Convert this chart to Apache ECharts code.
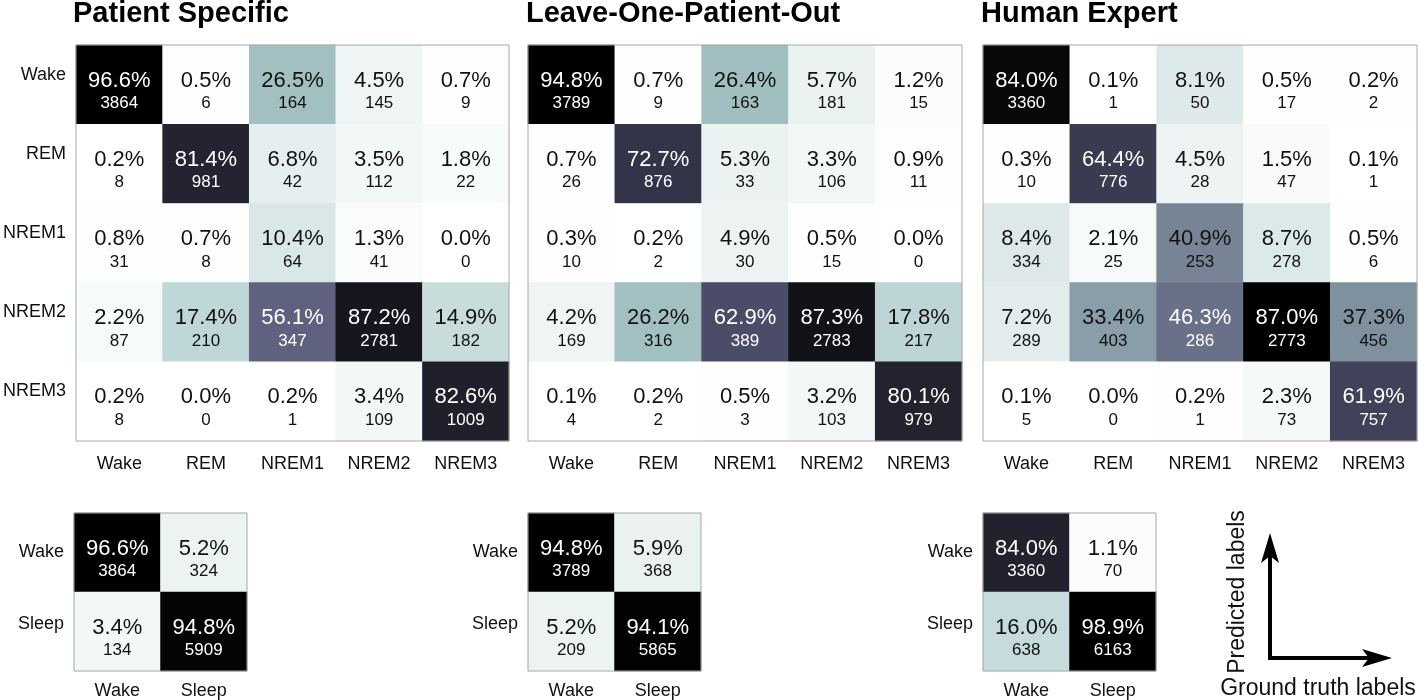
<!DOCTYPE html>
<html>
<head>
<meta charset="utf-8">
<script src="https://cdn.jsdelivr.net/npm/echarts@6/dist/echarts.min.js"></script>
<style>
html,body{margin:0;padding:0;background:#fff;}
#chart{width:1418px;height:700px;}
</style>
</head>
<body>
<div id="chart"></div>
<script>
// ---- data ----
const stageLabels = ['Wake', 'REM', 'NREM1', 'NREM2', 'NREM3'];
const binaryLabels = ['Wake', 'Sleep'];
const panelTitles = ['Patient Specific', 'Leave-One-Patient-Out', 'Human Expert'];

// rows = predicted label, columns = ground truth label
const psPct = [
  [96.6, 0.5, 26.5, 4.5, 0.7],
  [0.2, 81.4, 6.8, 3.5, 1.8],
  [0.8, 0.7, 10.4, 1.3, 0.0],
  [2.2, 17.4, 56.1, 87.2, 14.9],
  [0.2, 0.0, 0.2, 3.4, 82.6]
];
const psCnt = [
  [3864, 6, 164, 145, 9],
  [8, 981, 42, 112, 22],
  [31, 8, 64, 41, 0],
  [87, 210, 347, 2781, 182],
  [8, 0, 1, 109, 1009]
];
const lopoPct = [
  [94.8, 0.7, 26.4, 5.7, 1.2],
  [0.7, 72.7, 5.3, 3.3, 0.9],
  [0.3, 0.2, 4.9, 0.5, 0.0],
  [4.2, 26.2, 62.9, 87.3, 17.8],
  [0.1, 0.2, 0.5, 3.2, 80.1]
];
const lopoCnt = [
  [3789, 9, 163, 181, 15],
  [26, 876, 33, 106, 11],
  [10, 2, 30, 15, 0],
  [169, 316, 389, 2783, 217],
  [4, 2, 3, 103, 979]
];
const hePct = [
  [84.0, 0.1, 8.1, 0.5, 0.2],
  [0.3, 64.4, 4.5, 1.5, 0.1],
  [8.4, 2.1, 40.9, 8.7, 0.5],
  [7.2, 33.4, 46.3, 87.0, 37.3],
  [0.1, 0.0, 0.2, 2.3, 61.9]
];
const heCnt = [
  [3360, 1, 50, 17, 2],
  [10, 776, 28, 47, 1],
  [334, 25, 253, 278, 6],
  [289, 403, 286, 2773, 456],
  [5, 0, 1, 73, 757]
];
const psBinPct = [[96.6, 5.2], [3.4, 94.8]];
const psBinCnt = [[3864, 324], [134, 5909]];
const lopoBinPct = [[94.8, 5.9], [5.2, 94.1]];
const lopoBinCnt = [[3789, 368], [209, 5865]];
const heBinPct = [[84.0, 1.1], [16.0, 98.9]];
const heBinCnt = [[3360, 70], [638, 6163]];

const arrowYLabel = 'Predicted labels';
const arrowXLabel = 'Ground truth labels';

// ---- layout / style ----
const FONT = '"Liberation Sans", Arial, Helvetica, sans-serif';
// bone_r colormap
const boneR = ['#ffffff', '#d3e3e3', '#a8c7c7', '#8ba1ab', '#707b8f', '#545574', '#38384e', '#1c1c27', '#000000'];

const panels = [
  {pct: psPct, cnt: psCnt, cats: stageLabels, left: 75, top: 45, width: 434, height: 396, big: true, yLabels: true},
  {pct: lopoPct, cnt: lopoCnt, cats: stageLabels, left: 528, top: 45, width: 434, height: 396, big: true, yLabels: false},
  {pct: hePct, cnt: heCnt, cats: stageLabels, left: 983, top: 45, width: 434, height: 396, big: true, yLabels: false},
  {pct: psBinPct, cnt: psBinCnt, cats: binaryLabels, left: 74, top: 513, width: 173, height: 158, big: false, yLabels: true},
  {pct: lopoBinPct, cnt: lopoBinCnt, cats: binaryLabels, left: 528, top: 513, width: 173, height: 158, big: false, yLabels: true},
  {pct: heBinPct, cnt: heBinCnt, cats: binaryLabels, left: 983, top: 513, width: 173, height: 158, big: false, yLabels: true}
];

const grids = [], xAxes = [], yAxes = [], series = [], visualMaps = [];
panels.forEach((p, i) => {
  let maxV = 0;
  const data = [];
  p.pct.forEach((row, r) => row.forEach((v, c) => {
    maxV = Math.max(maxV, v);
    data.push([c, r, v, p.cnt[r][c]]);
  }));
  grids.push({
    left: p.left, top: p.top, width: p.width, height: p.height,
    show: true, borderColor: '#a8a8a8', borderWidth: 1, backgroundColor: 'transparent', z: 10
  });
  xAxes.push({
    type: 'category', gridIndex: i, data: p.cats, position: 'bottom',
    axisLine: {show: false}, axisTick: {show: false}, splitLine: {show: false},
    axisLabel: {fontSize: 18, color: '#111', fontFamily: FONT, margin: p.big ? 14 : 11, interval: 0}
  });
  yAxes.push({
    type: 'category', gridIndex: i, data: p.cats, inverse: true,
    axisLine: {show: false}, axisTick: {show: false}, splitLine: {show: false},
    axisLabel: p.big ? {show: p.yLabels, fontSize: 18, color: '#111', fontFamily: FONT, margin: 10, interval: 0,
      verticalAlign: 'bottom', lineHeight: 20}
      : {show: p.yLabels, fontSize: 18, color: '#111', fontFamily: FONT, margin: 10, interval: 0,
        formatter: (v, idx) => idx === 1 ? '{up|' + v + '}' : v,
        rich: {up: {fontSize: 18, color: '#111', fontFamily: FONT, padding: [0, 0, 14, 0]}}}
  });
  visualMaps.push({
    type: 'continuous', show: false, seriesIndex: i, dimension: 2,
    min: 0, max: maxV, inRange: {color: boneR}
  });
  series.push({
    type: 'heatmap', xAxisIndex: i, yAxisIndex: i, data: data,
    emphasis: {disabled: true},
    label: {
      show: true,
      offset: [0, 7],
      formatter: (prm) => {
        const dark = prm.value[2] / maxV > 0.5;
        const s = dark ? 'w' : 'b';
        return '{p' + s + '|' + prm.value[2].toFixed(1) + '%}\n{c' + s + '|' + prm.value[3] + '}';
      },
      rich: {
        pb: {fontSize: 22, color: '#111', fontFamily: FONT, lineHeight: 24, align: 'center'},
        pw: {fontSize: 22, color: '#fff', fontFamily: FONT, lineHeight: 24, align: 'center'},
        cb: {fontSize: 17, color: '#111', fontFamily: FONT, lineHeight: 22, align: 'center'},
        cw: {fontSize: 17, color: '#fff', fontFamily: FONT, lineHeight: 22, align: 'center'}
      }
    }
  });
});

const titles = panelTitles.map((t, i) => ({
  text: t, left: panels[i].left - 2, top: -1, padding: 0,
  textStyle: {fontSize: 29, fontWeight: 'bold', color: '#000', fontFamily: FONT}
}));

// orientation key (arrows)
const ox = 1270, oy = 658, upTip = 533, rightTip = 1392, headL = 30, headW = 9, notch = 7;
const graphics = [
  {type: 'line', shape: {x1: ox, y1: oy, x2: ox, y2: upTip + headL - notch}, style: {stroke: '#000', lineWidth: 4}},
  {type: 'line', shape: {x1: ox - 2, y1: oy, x2: rightTip - headL + notch, y2: oy}, style: {stroke: '#000', lineWidth: 4}},
  {type: 'polygon', shape: {points: [[ox, upTip], [ox + headW, upTip + headL], [ox, upTip + headL - notch], [ox - headW, upTip + headL]]}, style: {fill: '#000'}},
  {type: 'polygon', shape: {points: [[rightTip, oy], [rightTip - headL, oy + headW], [rightTip - headL + notch, oy], [rightTip - headL, oy - headW]]}, style: {fill: '#000'}},
  {type: 'text', x: 1238, y: 592, rotation: Math.PI / 2,
    style: {text: arrowYLabel, fontSize: 23, fontFamily: FONT, fill: '#111', align: 'center', verticalAlign: 'middle'}},
  {type: 'text', x: 1318, y: 689,
    style: {text: arrowXLabel, fontSize: 23, fontFamily: FONT, fill: '#111', align: 'center', verticalAlign: 'middle'}}
];

const chart = echarts.init(document.getElementById('chart'), null, {renderer: 'canvas'});
chart.setOption({
  animation: false,
  backgroundColor: '#fff',
  title: titles,
  grid: grids,
  xAxis: xAxes,
  yAxis: yAxes,
  visualMap: visualMaps,
  series: series,
  graphic: graphics
});
</script>
</body>
</html>
